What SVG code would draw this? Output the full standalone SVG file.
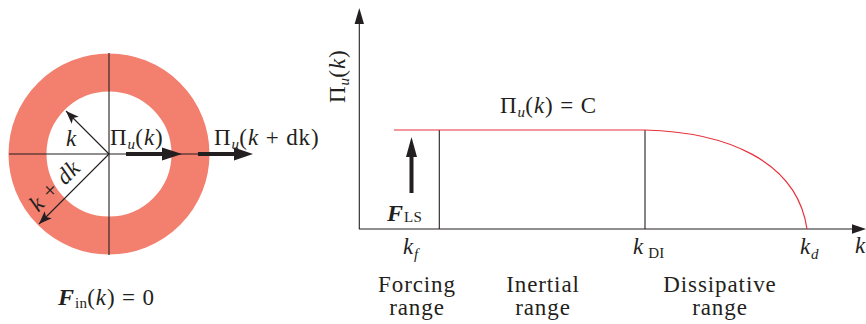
<svg xmlns="http://www.w3.org/2000/svg" width="866" height="324" viewBox="0 0 866 324">
  <style>
    text { font-family: "Liberation Serif", "DejaVu Serif", serif; font-size: 23px; letter-spacing: 0.9px; fill: #231f20; }
    .it { font-style: italic; }
    .up { font-style: normal; }
    .sub { font-size: 15px; letter-spacing: 0.3px; }
    .cal { font-style: italic; font-weight: bold; font-size: 24px; }
    .mid { text-anchor: middle; }
    .thin { stroke: #231f20; stroke-width: 1.1; fill: none; }
    .red { stroke: #e8303a; stroke-width: 1.2; fill: none; }
    .head { fill: #231f20; }
  </style>
  <defs>
    <marker id="ah" markerUnits="userSpaceOnUse" markerWidth="16" markerHeight="12" refX="13" refY="5" orient="auto">
      <path d="M0,0 L13,5 L0,10 L3,5 z" fill="#231f20"/>
    </marker>
  </defs>

  <!-- Left: shell in spectral space -->
  <g id="shell">
    <circle cx="109" cy="154" r="81.5" fill="none" stroke="#f37f6e" stroke-width="38"/>
    <line class="thin" x1="9" y1="154" x2="210" y2="154"/>
    <line class="thin" x1="109" y1="53" x2="109" y2="255"/>
  </g>

  <g id="connectors">
    <line class="thin" x1="109" y1="154" x2="66" y2="111" marker-end="url(#ah)"/>
    <line class="thin" x1="109" y1="154" x2="39" y2="224" marker-end="url(#ah)"/>
    <!-- thick flux arrows -->
    <rect x="126" y="152" width="38" height="4" class="head"/>
    <path d="M162,147.5 L182,154 L162,160.5 z" class="head"/>
    <rect x="198" y="152" width="38" height="4" class="head"/>
    <path d="M234,147.5 L253,154 L234,160.5 z" class="head"/>
    <!-- axes -->
    <line class="thin" x1="359.3" y1="229" x2="359.3" y2="20"/>
    <path d="M359.3,8 L364,24 L354.6,24 z" class="head"/>
    <line class="thin" x1="359" y1="229" x2="855" y2="229"/>
    <path d="M866,229 L852,224.3 L852,233.7 z" class="head"/>
    <!-- range boundaries -->
    <line class="thin" x1="439.3" y1="130" x2="439.3" y2="229"/>
    <line class="thin" x1="645" y1="130" x2="645" y2="229"/>
    <!-- forcing arrow -->
    <rect x="409.5" y="150" width="4" height="43" class="head"/>
    <path d="M411.5,137 L417,157 L406,157 z" class="head"/>
  </g>

  <g id="flux-curve">
    <path class="red" d="M394,130 L645,130 C725,132 797,160 807,229"/>
  </g>

  <g id="labels-left">
    <text x="66" y="146" class="it">k</text>
    <text x="110" y="145">Π<tspan class="sub it" dy="4">u</tspan><tspan dy="-4">(</tspan><tspan class="it">k</tspan>)</text>
    <text x="214" y="145">Π<tspan class="sub it" dy="4">u</tspan><tspan dy="-4">(</tspan><tspan class="it">k</tspan> + dk)</text>
    <text class="it mid" transform="translate(60,191) rotate(-45)">k <tspan class="up">+</tspan> dk</text>
    <text x="58" y="305"><tspan class="cal">F</tspan><tspan class="sub" dy="3">in</tspan><tspan dy="-3">(</tspan><tspan class="it">k</tspan>) = 0</text>
  </g>

  <g id="labels-right">
    <text transform="translate(345,103) rotate(-90)">Π<tspan class="sub it" dy="4">u</tspan><tspan dy="-4">(</tspan><tspan class="it">k</tspan>)</text>
    <text x="500" y="113">Π<tspan class="sub it" dy="4">u</tspan><tspan dy="-4">(</tspan><tspan class="it">k</tspan>) = C</text>
    <text x="387" y="221"><tspan class="cal">F</tspan><tspan class="sub" dy="1">LS</tspan></text>
    <text x="403" y="254" class="it">k<tspan class="sub" dy="5">f</tspan></text>
    <text x="633" y="254"><tspan class="it">k</tspan><tspan class="sub" dy="4"> DI</tspan></text>
    <text x="800" y="254" class="it">k<tspan class="sub" dy="5">d</tspan></text>
    <text x="855" y="253" class="it">k</text>
    <text x="417" y="292" class="mid">Forcing</text>
    <text x="417" y="315" class="mid">range</text>
    <text x="543" y="292" class="mid">Inertial</text>
    <text x="543" y="315" class="mid">range</text>
    <text x="720" y="292" class="mid">Dissipative</text>
    <text x="720" y="315" class="mid">range</text>
  </g>
</svg>
